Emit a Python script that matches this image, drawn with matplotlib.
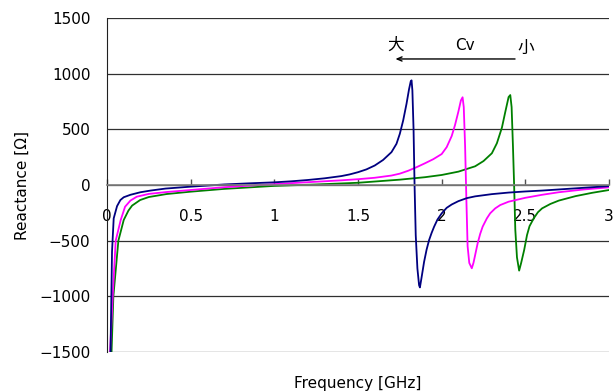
import matplotlib
matplotlib.use("Agg")
import matplotlib.pyplot as plt

plt.rcParams['font.family'] = ['DejaVu Sans', 'Noto Sans CJK JP']

# frequency [GHz] / reactance [ohm]
navy_f = [0.02, 0.03, 0.04, 0.06, 0.08, 0.1, 0.14, 0.2, 0.26, 0.35, 0.5, 0.7, 0.85, 1.0, 1.1,
          1.2, 1.3, 1.4, 1.45, 1.5, 1.55, 1.6, 1.65, 1.7, 1.73, 1.75, 1.77, 1.79, 1.805, 1.815,
          1.82, 1.825, 1.832, 1.838, 1.845, 1.855, 1.865, 1.87, 1.88, 1.895, 1.91, 1.925,
          1.94, 1.955, 1.975, 2.0, 2.03, 2.06, 2.1, 2.15, 2.2, 2.3, 2.4, 2.5, 2.6, 2.7,
          2.8, 2.9, 3.0]
navy_x = [-1600, -600, -300, -190, -135, -110, -88, -65, -50, -32, -15, 5, 15, 24, 33,
          45, 60, 80, 95, 115, 140, 175, 225, 295, 370, 460, 580, 730, 860, 930,
          940, 850, 500, 0, -450, -750, -900, -920, -830, -690, -580, -494,
          -430, -374, -310, -255, -205, -175, -145, -118, -102, -82, -68, -58, -50, -40,
          -30, -20, -10]

magenta_f = [0.015, 0.034, 0.052, 0.082, 0.108, 0.14, 0.178, 0.25, 0.357, 0.5, 0.7, 1.0, 1.2,
             1.4, 1.5, 1.6, 1.7, 1.75, 1.8, 1.85, 1.9, 1.95, 2.0, 2.03, 2.06, 2.08, 2.1, 2.115,
             2.125, 2.132, 2.14, 2.148, 2.155, 2.165, 2.18, 2.19, 2.2, 2.215, 2.23, 2.245,
             2.27, 2.29, 2.32, 2.35, 2.4, 2.5, 2.6, 2.7, 2.85, 3.0]
magenta_x = [-1600, -1000, -500, -314, -195, -140, -105, -80, -63, -45, -20, 8, 25,
             42, 52, 65, 85, 102, 128, 160, 195, 232, 278, 340, 440, 540, 660, 760,
             788, 700, 350, -150, -550, -700, -748, -700, -630, -524, -440, -374,
             -300, -254, -210, -180, -150, -115, -88, -65, -40, -21]

green_f = [0.025, 0.038, 0.068, 0.1, 0.128, 0.15, 0.198, 0.25, 0.357, 0.5, 0.7, 1.0, 1.25,
           1.5, 1.75, 1.9, 2.0, 2.1, 2.2, 2.25, 2.3, 2.33, 2.36, 2.38, 2.4, 2.41, 2.418,
           2.426, 2.433, 2.44, 2.45, 2.463, 2.475, 2.493, 2.51, 2.525, 2.55, 2.575, 2.6,
           2.65, 2.7, 2.8, 2.9, 3.0]
green_x = [-1600, -1000, -500, -314, -230, -185, -135, -108, -81, -60, -35, -8, 5,
           20, 48, 70, 90, 120, 168, 215, 285, 375, 515, 655, 790, 808, 700,
           350, 0, -400, -650, -769, -700, -584, -450, -370, -300, -245, -210,
           -170, -140, -100, -70, -45]

x_ticks = [0, 0.5, 1, 1.5, 2, 2.5, 3]
x_tick_labels = ["0", "0.5", "1", "1.5", "2", "2.5", "3"]
y_ticks = [-1500, -1000, -500, 0, 500, 1000, 1500]

fig = plt.figure(figsize=(6.16, 3.92), dpi=100)
ax = fig.add_axes([107 / 616, 1 - 352 / 392, 502 / 616, 334 / 392])

ax.plot(green_f, green_x, color='#008000', lw=1.3)
ax.plot(magenta_f, magenta_x, color='#ff00ff', lw=1.3)
ax.plot(navy_f, navy_x, color='#000080', lw=1.3)

ax.set_xlim(0, 3)
ax.set_ylim(-1500, 1500)
ax.set_yticks(y_ticks)
ax.set_xticks(x_ticks)
ax.set_xticklabels(x_tick_labels)

# horizontal grid, x axis sits on zero
ax.yaxis.grid(True, color='#303030', lw=0.9)
ax.set_axisbelow(True)
for s in ['top', 'right']:
    ax.spines[s].set_visible(False)
ax.spines['bottom'].set_position(('data', 0))
ax.spines['bottom'].set_color('#808080')
ax.spines['bottom'].set_linewidth(1.2)
ax.spines['left'].set_color('#202020')
ax.tick_params(axis='x', direction='in', length=4.5, color='#505050', width=1, pad=17, labelsize=11)
ax.tick_params(axis='y', length=0, pad=12, labelsize=11)

ax.set_ylabel("Reactance [Ω]", fontsize=11, labelpad=7)
ax.set_xlabel("Frequency [GHz]", fontsize=11)
ax.xaxis.set_label_coords(0.5, -0.072)

# Cv direction note
ax.text(1.725, 1257, "大", fontsize=12, ha='center', va='center')
ax.text(2.14, 1257, "Cv", fontsize=11, ha='center', va='center')
ax.text(2.503, 1230, "小", fontsize=12, ha='center', va='center')
ax.annotate("", xy=(1.707, 1132), xytext=(2.455, 1132),
            arrowprops=dict(arrowstyle='->,head_length=0.35,head_width=0.15', color='black', lw=1))

fig.savefig("out.png", dpi=100)
